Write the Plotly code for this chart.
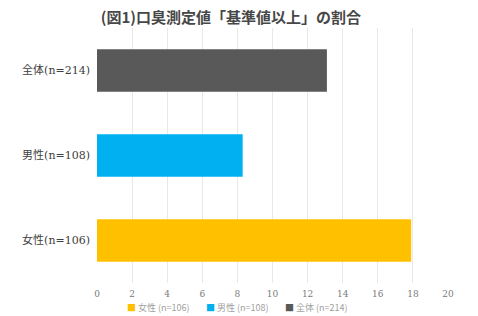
import plotly.graph_objects as go

categories = ["女性(n=106)", "男性(n=108)", "全体(n=214)"]
legend_names = ["女性 (n=106)", "男性 (n=108)", "全体 (n=214)"]
values = [17.9, 8.3, 13.1]
colors = ["#FFC000", "#00B0F0", "#595959"]
tick_vals = list(range(0, 21, 2))

fig = go.Figure()
for cat, name, val, col in zip(categories, legend_names, values, colors):
    fig.add_trace(go.Bar(
        y=[cat], x=[val], name=name, orientation="h",
        marker=dict(color=col, line=dict(width=0)), width=0.5, showlegend=False,
    ))

# legend drawn as text annotations
leg_x = [0.08, 0.305, 0.53]
for lx, name, col in zip(leg_x, legend_names, colors):
    fig.add_annotation(
        text=f'<span style="color:{col}">■</span> {name}',
        xref="paper", yref="paper", x=lx, y=-0.095, xanchor="left", yanchor="middle",
        showarrow=False, font=dict(family="Noto Sans CJK JP", size=9, color="#a0a0a0"),
    )

fig.update_layout(
    width=478, height=316,
    margin=dict(l=97, r=30, t=28, b=33),
    paper_bgcolor="white", plot_bgcolor="white",
    barmode="overlay",
    title=dict(text="<b>(図1)口臭測定値「基準値以上」の割合</b>", x=0.483, xanchor="center",
               y=0.945, yanchor="middle",
               font=dict(family="Noto Sans CJK JP", size=15, color="#474747")),
    xaxis=dict(range=[0, 20], tickvals=tick_vals, showgrid=True, gridcolor="#e8e8e8",
               gridwidth=1, zeroline=False, showline=False, ticks="",
               tickfont=dict(family="DejaVu Serif", size=9, color="#7a7a7a"), ticklabelstandoff=4),
    yaxis=dict(categoryorder="array", categoryarray=categories, showgrid=False,
               zeroline=False, showline=False, ticks="", ticklabelstandoff=6,
               tickfont=dict(family="DejaVu Serif, Noto Sans CJK JP", size=11, color="#404040")),
    showlegend=False,
)

fig.write_html("out.html")
